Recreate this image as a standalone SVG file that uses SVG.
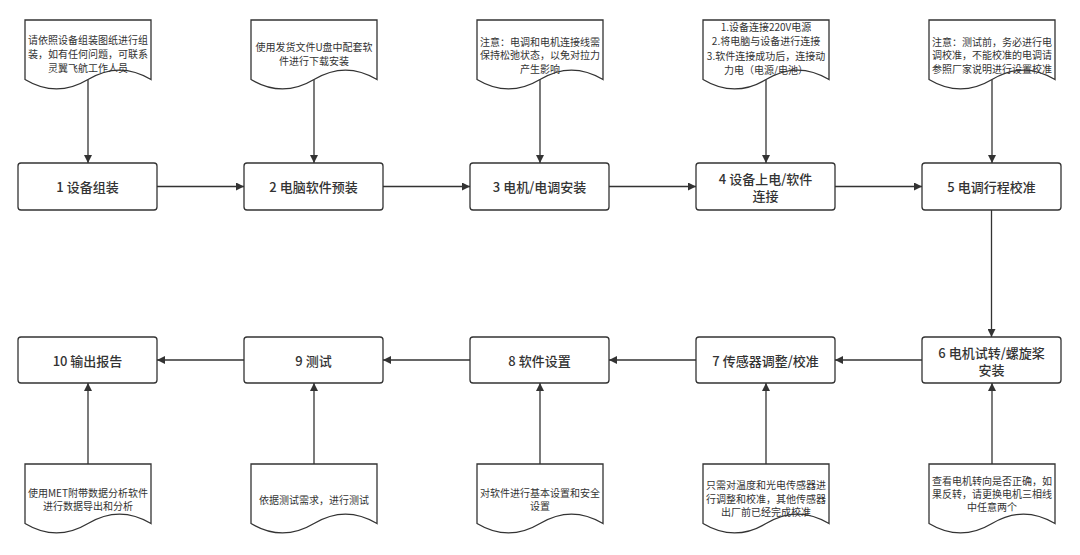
<svg xmlns="http://www.w3.org/2000/svg" width="1080" height="555" viewBox="0 0 1080 555">
<defs>
<style>
.node rect{fill:#fff;stroke:#333;stroke-width:1.3}
.doc use{fill:#fff;stroke:#333;stroke-width:1.3}
.nt{font-family:"Noto Sans CJK SC","Noto Sans",sans-serif;font-size:13px;fill:#333;text-anchor:middle;dominant-baseline:central;font-weight:500}
.dt{font-family:"Noto Sans CJK SC","Noto Sans",sans-serif;font-size:10px;fill:#333;text-anchor:middle;dominant-baseline:central}
.conn path{fill:none;stroke:#333;stroke-width:1.3;marker-end:url(#arr)}
</style>
<marker id="arr" viewBox="0 0 10 10" refX="10" refY="5" markerWidth="8" markerHeight="8" markerUnits="userSpaceOnUse" orient="auto">
<path d="M0,0 L10,5 L0,10 z" fill="#333"/>
</marker>
<path id="docshape" d="M0,0 H126 V59.5 Q94.5,40.6 63,59.5 Q31.5,78.4 0,59.5 Z"/>
</defs>
<rect width="1080" height="555" fill="#fff"/>

<g class="conn">
<path d="M88,79.5 V163"/>
<path d="M314,79.5 V163"/>
<path d="M540,79.5 V163"/>
<path d="M766,79.5 V163"/>
<path d="M992,79.5 V163"/>
<path d="M157,186.5 H244"/>
<path d="M383,186.5 H470"/>
<path d="M609,186.5 H696"/>
<path d="M835,186.5 H922"/>
<path d="M991.5,210 V337"/>
<path d="M922,360 H835"/>
<path d="M696,360 H609"/>
<path d="M470,360 H383"/>
<path d="M244,360 H157"/>
<path d="M88,464 V383"/>
<path d="M314,464 V383"/>
<path d="M540,464 V383"/>
<path d="M766,464 V383"/>
<path d="M992,464 V383"/>
</g>

<g id="doc1" class="doc"><use href="#docshape" x="25" y="20"/>
<text class="dt" x="88" y="39">请依照设备组装图纸进行组</text>
<text class="dt" x="88" y="53">装，如有任何问题，可联系</text>
<text class="dt" x="88" y="67">灵翼飞航工作人员</text></g>

<g id="doc2" class="doc"><use href="#docshape" x="251" y="20"/>
<text class="dt" x="314" y="46">使用发货文件U盘中配套软</text>
<text class="dt" x="314" y="60">件进行下载安装</text></g>

<g id="doc3" class="doc"><use href="#docshape" x="477" y="20"/>
<text class="dt" x="540" y="41">注意：电调和电机连接线需</text>
<text class="dt" x="540" y="54.5">保持松弛状态，以免对拉力</text>
<text class="dt" x="540" y="68">产生影响</text></g>

<g id="doc4" class="doc"><use href="#docshape" x="703" y="20"/>
<text class="dt" x="766" y="26">1.设备连接220V电源</text>
<text class="dt" x="766" y="40.5">2.将电脑与设备进行连接</text>
<text class="dt" x="766" y="55">3.软件连接成功后，连接动</text>
<text class="dt" x="766" y="69.5">力电（电源/电池）</text></g>

<g id="doc5" class="doc"><use href="#docshape" x="929" y="20"/>
<text class="dt" x="992" y="41">注意：测试前，务必进行电</text>
<text class="dt" x="992" y="54.5">调校准，不能校准的电调请</text>
<text class="dt" x="992" y="68">参照厂家说明进行设置校准</text></g>

<g id="n1" class="node"><rect x="18" y="163" width="139" height="47" rx="3"/><text class="nt" x="87.5" y="186.5">1 设备组装</text></g>
<g id="n2" class="node"><rect x="244" y="163" width="139" height="47" rx="3"/><text class="nt" x="313.5" y="186.5">2 电脑软件预装</text></g>
<g id="n3" class="node"><rect x="470" y="163" width="139" height="47" rx="3"/><text class="nt" x="539.5" y="186.5">3 电机/电调安装</text></g>
<g id="n4" class="node"><rect x="696" y="163" width="139" height="47" rx="3"/><text class="nt" x="765.5" y="178">4 设备上电/软件</text><text class="nt" x="765.5" y="195">连接</text></g>
<g id="n5" class="node"><rect x="922" y="163" width="139" height="47" rx="3"/><text class="nt" x="991.5" y="186.5">5 电调行程校准</text></g>

<g id="n6" class="node"><rect x="922" y="337" width="139" height="46" rx="3"/><text class="nt" x="991.5" y="352">6 电机试转/螺旋桨</text><text class="nt" x="991.5" y="369.5">安装</text></g>
<g id="n7" class="node"><rect x="696" y="337" width="139" height="46" rx="3"/><text class="nt" x="765.5" y="360">7 传感器调整/校准</text></g>
<g id="n8" class="node"><rect x="470" y="337" width="139" height="46" rx="3"/><text class="nt" x="539.5" y="360">8 软件设置</text></g>
<g id="n9" class="node"><rect x="244" y="337" width="139" height="46" rx="3"/><text class="nt" x="313.5" y="360">9 测试</text></g>
<g id="n10" class="node"><rect x="18" y="337" width="139" height="46" rx="3"/><text class="nt" x="87.5" y="360">10 输出报告</text></g>

<g id="doc10" class="doc"><use href="#docshape" x="25" y="464"/>
<text class="dt" x="88" y="492">使用MET附带数据分析软件</text>
<text class="dt" x="88" y="505.5">进行数据导出和分析</text></g>

<g id="doc9" class="doc"><use href="#docshape" x="251" y="464"/>
<text class="dt" x="314" y="499">依据测试需求，进行测试</text></g>

<g id="doc8" class="doc"><use href="#docshape" x="477" y="464"/>
<text class="dt" x="540" y="492">对软件进行基本设置和安全</text>
<text class="dt" x="540" y="505.5">设置</text></g>

<g id="doc7" class="doc"><use href="#docshape" x="703" y="464"/>
<text class="dt" x="766" y="484.5">只需对温度和光电传感器进</text>
<text class="dt" x="766" y="498">行调整和校准，其他传感器</text>
<text class="dt" x="766" y="511.5">出厂前已经完成校准</text></g>

<g id="doc6" class="doc"><use href="#docshape" x="929" y="464"/>
<text class="dt" x="992" y="480">查看电机转向是否正确，如</text>
<text class="dt" x="992" y="493">果反转，请更换电机三相线</text>
<text class="dt" x="992" y="506">中任意两个</text></g>
</svg>
